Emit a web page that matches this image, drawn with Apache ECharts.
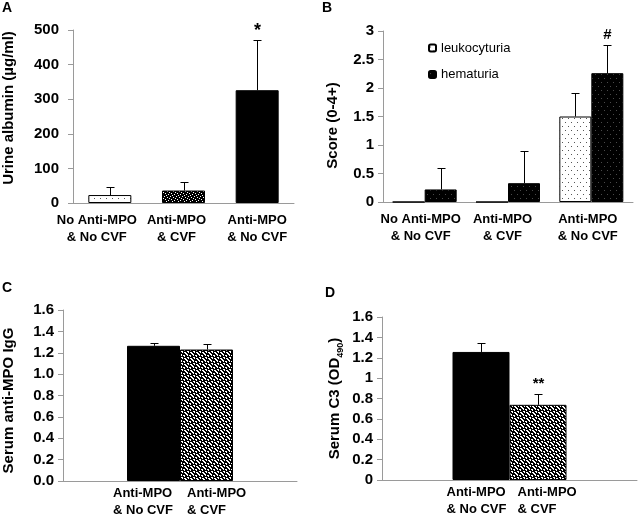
<!DOCTYPE html>
<html><head><meta charset="utf-8">
<script src="https://cdn.jsdelivr.net/npm/echarts@6/dist/echarts.min.js"></script>
<style>html,body{margin:0;padding:0;background:#fff}#c{width:640px;height:514px}</style>
</head><body><div id="c"></div>
<script>
// ---------- DATA ----------
// Panel A
const catsA = ['No Anti-MPO\n& No CVF', 'Anti-MPO\n& CVF', 'Anti-MPO\n& No CVF'];
const albumin = [23, 36, 326];
const albuminErrTop = [45, 61, 470];
const sigA = ['', '', '*'];
// Panel B
const catsB = ['No Anti-MPO\n& No CVF', 'Anti-MPO\n& CVF', 'Anti-MPO\n& No CVF'];
const seriesNamesB = ['leukocyturia', 'hematuria'];
const leuko = [0, 0, 1.5];
const leukoErrTop = [0, 0, 1.91];
const hema = [0.22, 0.33, 2.26];
const hemaErrTop = [0.6, 0.9, 2.75];
const sigLeuko = ['', '', ''];
const sigHema = ['', '', '#'];
// Panel C
const groupsC = ['Anti-MPO\n& No CVF', 'Anti-MPO\n& CVF'];
const igg = [1.265, 1.23];
const iggErrTop = [1.295, 1.28];
// Panel D
const groupsD = ['Anti-MPO\n& No CVF', 'Anti-MPO\n& CVF'];
const c3 = [1.257, 0.738];
const c3ErrTop = [1.345, 0.84];
const sigD = ['', '**'];
// Panel letters
const panelLetters = ['A', 'B', 'C', 'D'];

// ---------- STYLE ----------
const FONT = '"Liberation Sans", Arial, Helvetica, sans-serif';
const AXIS_GREY = '#9a9a9a';

function pattern(w, h, bg, fg, pts) {
  const c = document.createElement('canvas');
  c.width = w; c.height = h;
  const ctx = c.getContext('2d');
  ctx.fillStyle = bg; ctx.fillRect(0, 0, w, h);
  ctx.fillStyle = fg;
  pts.forEach(p => ctx.fillRect(p[0], p[1], 1, 1));
  return { image: c, repeat: 'repeat' };
}
function maskPattern(rows, black, white) {
  const pts = [];
  rows.forEach((r, y) => r.split('').forEach((ch, x) => { if (ch === '.') pts.push([x, y]); }));
  return pattern(rows[0].length, rows.length, black, white, pts);
}
const patLightDots = pattern(6, 8, '#ffffff', '#555555', [[1, 2], [4, 6]]);
const patDarkDots = pattern(6, 8, '#000000', '#4a4a4a', [[1, 2], [4, 6]]);
const patDense = maskPattern([
  '#.####',
  '###.##',
  '.#####',
  '####.#',
  '##.###',
  '#####.'
], '#000000', '#ffffff');
const patWeave = maskPattern([
  '..####',
  '#.#..#',
  '####.#',
  '#..###',
  '##.#..',
  '.####.'
], '#000000', '#ffffff');

function errSeries(name, xi, yi, vals, tops, sigs, offset, sigSize) {
  return {
    type: 'custom', name: name, xAxisIndex: xi, yAxisIndex: yi, z: 5,
    silent: true,
    data: vals.map((v, i) => [i, v, tops[i]]),
    renderItem: function (params, api) {
      const i = api.value(0), v = api.value(1), e = api.value(2);
      const base = api.coord([i, v]);
      const top = api.coord([i, e]);
      const x = Math.round(base[0] + offset) + 0.5;
      const yt = Math.round(top[1]) + 0.5;
      const children = [];
      if (e > v) {
        children.push({ type: 'line', shape: { x1: x, y1: base[1], x2: x, y2: yt }, style: { stroke: '#000', lineWidth: 1 } });
        children.push({ type: 'line', shape: { x1: x - 4, y1: yt, x2: x + 4, y2: yt }, style: { stroke: '#000', lineWidth: 1 } });
      }
      const s = sigs ? sigs[params.dataIndex] : '';
      if (s) {
        children.push({ type: 'text', style: { text: s, x: x, y: yt - (sigSize === 18 ? 0 : 3), align: 'center', verticalAlign: 'bottom', fontSize: sigSize, fontWeight: 'bold', fontFamily: FONT, fill: '#000' } });
      }
      return { type: 'group', children: children };
    }
  };
}

function yAx(gi, min, max, interval, name, gap, pad, margin, fmt, extra) {
  const o = {
    type: 'value', gridIndex: gi, min: min, max: max, interval: interval,
    name: name, nameLocation: 'middle', nameGap: gap,
    nameTextStyle: { fontSize: 15, fontWeight: 'bold', fontFamily: FONT, color: '#000', padding: pad },
    axisLine: { show: true, lineStyle: { color: AXIS_GREY, width: 1 } },
    axisTick: { show: true, length: 5, lineStyle: { color: AXIS_GREY } },
    axisLabel: { fontSize: 15, fontWeight: 'bold', fontFamily: FONT, color: '#000', margin: margin, formatter: fmt },
    splitLine: { show: false }
  };
  if (extra) Object.assign(o.nameTextStyle, extra);
  return o;
}

const catLabelStyle = { fontSize: 13, fontWeight: 'bold', fontFamily: FONT, color: '#000', lineHeight: 17, interval: 0, margin: 9 };

const padsA = [26, 14, 0];
const padsB = [8, 11, 7];

const option = {
  backgroundColor: '#fff',
  animation: false,
  title: [
    { text: panelLetters[0], left: 2, top: 1 },
    { text: panelLetters[1], left: 322, top: 1 },
    { text: panelLetters[2], left: 2, top: 281 },
    { text: panelLetters[3], left: 325, top: 286 }
  ].map(t => Object.assign(t, { padding: 0, textStyle: { fontSize: 14, fontWeight: 'bold', fontFamily: FONT, color: '#000' } })),
  legend: {
    data: seriesNamesB, orient: 'vertical', left: 423, top: 36,
    itemWidth: 7, itemHeight: 7, itemGap: 12.6,
    textStyle: { fontSize: 13, fontFamily: FONT, color: '#000', lineHeight: 14 },
    selectedMode: false
  },
  grid: [
    { left: 72, top: 30, width: 222, height: 173 },
    { left: 383, top: 31, width: 250, height: 171 },
    { left: 62, top: 310, width: 235, height: 171 },
    { left: 382, top: 317, width: 255, height: 163 }
  ],
  xAxis: [
    { type: 'category', gridIndex: 0, data: catsA.map((c, i) => ({ value: c, textStyle: { padding: [0, padsA[i], 0, 0] } })),
      axisLine: { lineStyle: { color: AXIS_GREY } }, axisTick: { show: false }, axisLabel: catLabelStyle },
    { type: 'category', gridIndex: 1, data: catsB.map((c, i) => ({ value: c, textStyle: { padding: [0, padsB[i], 0, 0] } })),
      axisLine: { lineStyle: { color: AXIS_GREY } }, axisTick: { show: false }, axisLabel: catLabelStyle },
    { type: 'category', gridIndex: 2, data: [''],
      axisLine: { lineStyle: { color: AXIS_GREY } }, axisTick: { show: false }, axisLabel: { show: false } },
    { type: 'category', gridIndex: 3, data: [''],
      axisLine: { lineStyle: { color: AXIS_GREY } }, axisTick: { show: false }, axisLabel: { show: false } }
  ],
  yAxis: [
    yAx(0, 0, 500, 100, 'Urine albumin (µg/ml)', 57, [0, 0, 0, 17], 14),
    yAx(1, 0, 3, 0.5, 'Score (0-4+)', 43, [0, 18, 0, 0], 9),
    yAx(2, 0, 1.6, 0.2, 'Serum anti-MPO IgG', 47, [0, 10, 0, 0], 9, v => v.toFixed(1)),
    yAx(3, 0, 1.6, 0.2, '{b|Serum C3 (OD}{sub|490}{b|)}', 37, [0, 0, 0, 0], 9, null,
      { rich: {
        b: { fontSize: 15, fontWeight: 700, fontFamily: FONT, color: '#000', lineHeight: 20, verticalAlign: 'middle' },
        sub: { fontSize: 9, fontWeight: 700, fontFamily: FONT, color: '#000', lineHeight: 9, verticalAlign: 'bottom' }
      } })
  ],
  series: [
    // A
    { type: 'bar', name: 'albumin', xAxisIndex: 0, yAxisIndex: 0, barWidth: 43,
      data: albumin.map((v, i) => ({ value: v, itemStyle: { color: [patLightDots, patDense, '#000'][i] } })),
      itemStyle: { borderColor: '#000', borderWidth: 1 } },
    errSeries('errA', 0, 0, albumin, albuminErrTop, sigA, 0, 18),
    // B
    { type: 'bar', name: seriesNamesB[0], xAxisIndex: 1, yAxisIndex: 1, barWidth: 32, barGap: 0,
      data: leuko, itemStyle: { color: patLightDots, borderColor: '#000', borderWidth: 1 } },
    { type: 'bar', name: seriesNamesB[1], xAxisIndex: 1, yAxisIndex: 1, barWidth: 32, barGap: 0,
      data: hema, itemStyle: { color: patDarkDots, borderColor: '#000', borderWidth: 1 } },
    errSeries('errLeuko', 1, 1, leuko, leukoErrTop, sigLeuko, -16, 15),
    errSeries('errHema', 1, 1, hema, hemaErrTop, sigHema, 16, 15),
    // C
    { type: 'bar', name: groupsC[0], xAxisIndex: 2, yAxisIndex: 2, barWidth: 53, barGap: 0,
      data: [igg[0]], itemStyle: { color: '#000', borderColor: '#000', borderWidth: 1 },
      label: { show: true, formatter: groupsC[0], position: [-14, '100%'], offset: [0, 4], align: 'left', verticalAlign: 'top',
        fontSize: 13, fontWeight: 'bold', fontFamily: FONT, color: '#000', lineHeight: 17 } },
    { type: 'bar', name: groupsC[1], xAxisIndex: 2, yAxisIndex: 2, barWidth: 53, barGap: 0,
      data: [igg[1]], itemStyle: { color: patWeave, borderColor: '#000', borderWidth: 1 },
      label: { show: true, formatter: groupsC[1], position: [7, '100%'], offset: [0, 4], align: 'left', verticalAlign: 'top',
        fontSize: 13, fontWeight: 'bold', fontFamily: FONT, color: '#000', lineHeight: 17 } },
    errSeries('errC0', 2, 2, [igg[0]], [iggErrTop[0]], null, -26.5, 15),
    errSeries('errC1', 2, 2, [igg[1]], [iggErrTop[1]], null, 26.5, 15),
    // D
    { type: 'bar', name: groupsD[0], xAxisIndex: 3, yAxisIndex: 3, barWidth: 57, barGap: 0,
      data: [c3[0]], itemStyle: { color: '#000', borderColor: '#000', borderWidth: 1 },
      label: { show: true, formatter: groupsD[0], position: [-6, '100%'], offset: [0, 4], align: 'left', verticalAlign: 'top',
        fontSize: 13, fontWeight: 'bold', fontFamily: FONT, color: '#000', lineHeight: 17 } },
    { type: 'bar', name: groupsD[1], xAxisIndex: 3, yAxisIndex: 3, barWidth: 57, barGap: 0,
      data: [c3[1]], itemStyle: { color: patWeave, borderColor: '#000', borderWidth: 1 },
      label: { show: true, formatter: groupsD[1], position: [8, '100%'], offset: [0, 4], align: 'left', verticalAlign: 'top',
        fontSize: 13, fontWeight: 'bold', fontFamily: FONT, color: '#000', lineHeight: 17 } },
    errSeries('errD0', 3, 3, [c3[0]], [c3ErrTop[0]], [sigD[0]], -28.5, 15),
    errSeries('errD1', 3, 3, [c3[1]], [c3ErrTop[1]], [sigD[1]], 28.5, 15)
  ]
};

const chart = echarts.init(document.getElementById('c'), null, { renderer: 'canvas' });
chart.setOption(option);
</script>
</body></html>
